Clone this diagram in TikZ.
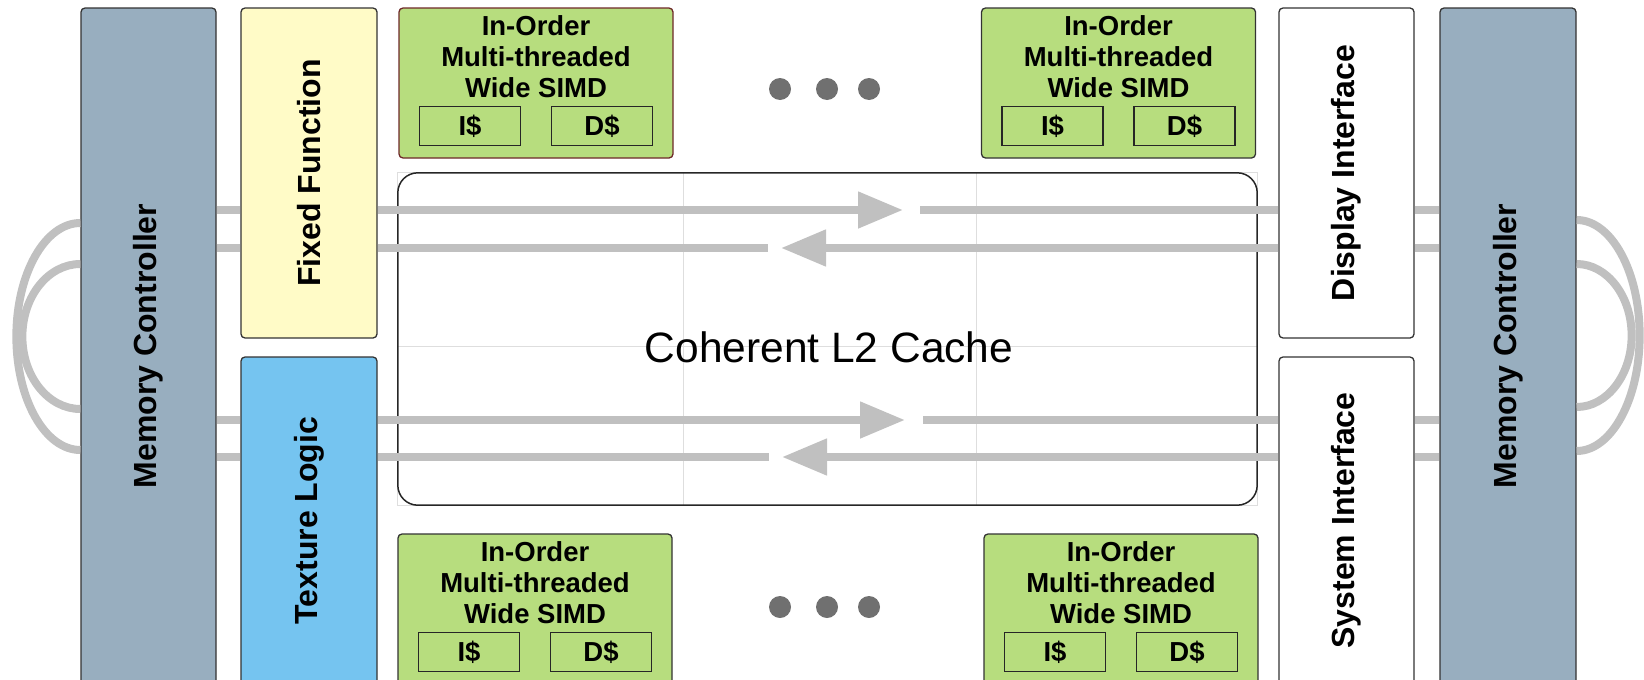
\documentclass[tikz,border=0pt]{standalone}
\usepackage{fontspec}
\setmainfont{Liberation Sans}
\usetikzlibrary{arrows.meta,calc}
\definecolor{memblue}{RGB}{152,174,191}
\definecolor{ffyellow}{RGB}{255,251,199}
\definecolor{texblue}{RGB}{117,196,240}
\definecolor{coregreen}{RGB}{183,221,126}
\definecolor{busgray}{RGB}{192,192,192}
\definecolor{gridgray}{RGB}{222,222,222}
\definecolor{dotgray}{RGB}{112,112,112}
\definecolor{corered}{RGB}{110,40,40}

\begin{document}
\begin{tikzpicture}[x=1pt,y=-1pt,
  every node/.style={inner sep=0pt},
  blk/.style={draw=black!80, line width=1.3pt, rounded corners=4pt},
  vlabel/.style={rotate=90, font=\fontsize{32}{32}\selectfont\bfseries},
  core/.style={blk, fill=coregreen, minimum width=274pt, minimum height=150pt},
  coretext/.style={font=\fontsize{27.5}{31}\selectfont\bfseries, align=center, anchor=north},
  cachebox/.style={draw=black!85, line width=1.3pt, minimum width=101pt, minimum height=39pt,
    font=\fontsize{27.5}{31}\selectfont\bfseries},
  bus/.style={busgray, line width=8pt},
  head/.style={-{Triangle[length=45pt,width=35pt]}}]
\clip (0,0) rectangle (1644,680);

% --- memory controllers and side blocks ---
\node[blk, fill=memblue, minimum width=135pt, minimum height=676pt] (memL) at (148.5,346) {};
\node[vlabel] (memLtxt) at (memL) {Memory Controller};
\node[blk, fill=memblue, minimum width=136pt, minimum height=676pt] (memR) at (1508,346) {};
\node[vlabel] (memRtxt) at (memR) {Memory Controller};
\node[blk, fill=ffyellow, minimum width=136pt, minimum height=330pt] (fixed) at (309,173) {};
\node[vlabel] (fixedtxt) at (fixed) {Fixed Function};
\node[blk, fill=texblue, minimum width=136pt, minimum height=327pt] (texture) at (309,520.5) {};
\node[vlabel] (texturetxt) at (texture) {Texture Logic};
\node[blk, fill=white, minimum width=135pt, minimum height=330pt] (disp) at (1346.5,173) {};
\node[vlabel] (disptxt) at (disp) {Display Interface};
\node[blk, fill=white, minimum width=135pt, minimum height=327pt] (sys) at (1346.5,520.5) {};
\node[vlabel] (systxt) at (sys) {System Interface};

% --- L2 cache with its faint grid ---
\node[minimum width=859pt, minimum height=332pt] (l2) at (827.5,339) {};
\draw[gridgray, line width=1pt] (l2.north west) rectangle (l2.south east);
\foreach \gx in {683,976}
    \draw[gridgray, line width=1pt] (l2.north -| \gx,0) -- (l2.south -| \gx,0);
\draw[gridgray, line width=1pt] (l2.west |- 0,346) -- (l2.east |- 0,346);
\draw[black!85, line width=1.5pt, rounded corners=20pt] (l2.north west) rectangle (l2.south east);
\node[font=\fontsize{42.5}{42}\selectfont] (l2txt) at ($(l2.center)+(1.5,8)$) {Coherent L2 Cache};

% --- cores: top row and bottom row ---
\foreach \nm/\cx/\cy/\edge in {coreA/536/83/corered, coreB/1118.5/83/black!80,
                               coreC/535/609/black!80, coreD/1121/609/black!80} {
    \node[core, draw=\edge] (\nm) at (\cx,\cy) {};
    \node[coretext] (\nm-txt) at ($(\nm.north)+(0,8.5)$) {In-Order\\Multi-threaded\\Wide SIMD};
    \node[cachebox] (\nm-i) at ($(\nm.north)+(-66,118.5)$) {I\$};
    \node[cachebox] (\nm-d) at ($(\nm.north)+(66,118.5)$) {D\$};
}
% more cores in between
\foreach \dx in {780,827,869} {
    \fill[dotgray] (\dx,89) circle (11pt);
    \fill[dotgray] (\dx,607) circle (11pt);
}

% --- ring bus ---
\coordinate (busA) at (0,210);
\coordinate (busB) at (0,248);
\coordinate (busC) at (0,420);
\coordinate (busD) at (0,457);
\foreach \b in {busA,busB} {
    \draw[bus] (memL.east |- \b) -- (fixed.west |- \b);
    \draw[bus] (disp.east |- \b) -- (memR.west |- \b);
}
\foreach \b in {busC,busD} {
    \draw[bus] (memL.east |- \b) -- (texture.west |- \b);
    \draw[bus] (sys.east |- \b) -- (memR.west |- \b);
}
% upper pair
\coordinate (tipA) at (903,210);
\coordinate (gapA) at (920,210);
\coordinate (endB) at (768,248);
\coordinate (tipB) at (781,248);
\draw[bus, head] (fixed.east |- busA) -- (tipA);
\draw[bus] (gapA) -- (disp.west |- busA);
\draw[bus] (fixed.east |- busB) -- (endB);
\draw[bus, head] (disp.west |- busB) -- (tipB);
% lower pair
\coordinate (tipC) at (905,420);
\coordinate (gapC) at (923,420);
\coordinate (endD) at (769,457);
\coordinate (tipD) at (782,457);
\draw[bus, head] (texture.east |- busC) -- (tipC);
\draw[bus] (gapC) -- (sys.west |- busC);
\draw[bus] (texture.east |- busD) -- (endD);
\draw[bus, head] (sys.west |- busD) -- (tipD);

% --- memory loops ---
\draw[bus] (memL.west |- 0,223) arc[start angle=270, end angle=90, x radius=64, y radius=113.5];
\draw[bus] (memL.west |- 0,264) arc[start angle=270, end angle=90, x radius=58, y radius=72.5];
\draw[bus] (memR.east |- 0,220) arc[start angle=270, end angle=450, x radius=63, y radius=115.5];
\draw[bus] (memR.east |- 0,264) arc[start angle=270, end angle=450, x radius=55, y radius=71.5];
\end{tikzpicture}
\end{document}
